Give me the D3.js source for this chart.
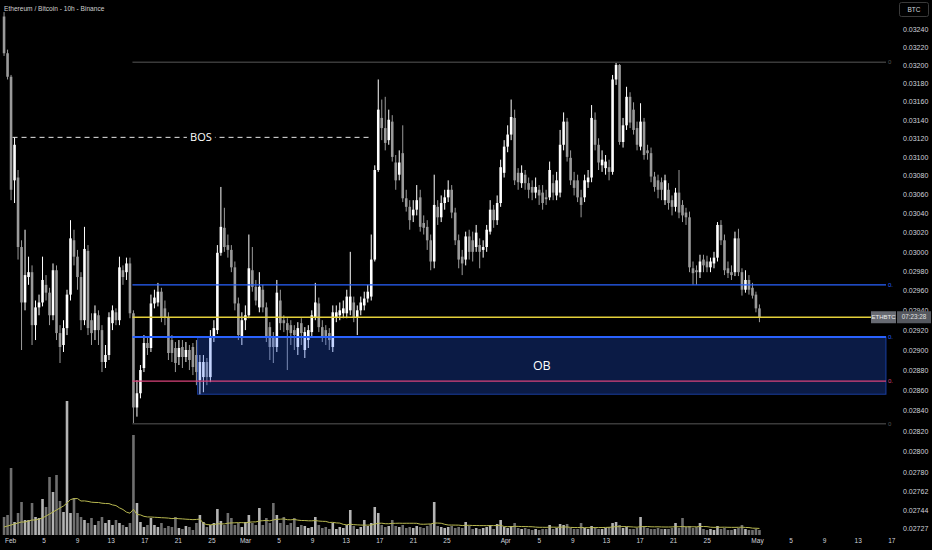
<!DOCTYPE html>
<html><head><meta charset="utf-8">
<script src="https://cdn.jsdelivr.net/npm/d3@7/dist/d3.min.js"></script>
<style>
html,body{margin:0;padding:0;background:#000;overflow:hidden;}
svg{display:block;font-family:"Liberation Sans","DejaVu Sans",sans-serif;}
</style></head><body>
<svg id="chart" width="932" height="550"></svg>
<script>
// ---------------- DATA ----------------
const title = "Ethereum / Bitcoin - 10h - Binance";
const currency = "BTC";
const symbol = "ETHBTC";
const countdown = "07:23:28";
const firstCandle = "2021-01-31T07:00:00Z";
const candleHours = 10;

const opens = [
0.03254,0.03213,0.03187,0.03075,0.03078,0.03005,0.02948,0.02974,0.02979,0.02925,
0.02943,0.02948,0.02966,0.02958,0.02935,0.02981,0.02917,0.02905,0.02922,0.02956,
0.03012,0.02995,0.02974,0.02930,0.03001,0.02930,0.02920,0.02935,0.02920,0.02888,
0.02895,0.02927,0.02938,0.02930,0.02981,0.02979,0.02988,0.02937,0.02843,0.02857,
0.02882,0.02907,0.02902,0.02947,0.02948,0.02959,0.02942,0.02933,0.02910,0.02902,
0.02893,0.02903,0.02893,0.02900,0.02903,0.02895,0.02870,0.02873,0.02888,0.02873,
0.02913,0.02920,0.02999,0.03025,0.03007,0.03002,0.02984,0.02947,0.02913,0.02930,
0.02935,0.02981,0.02964,0.02943,0.02961,0.02943,0.02923,0.02913,0.02903,0.02950,
0.02930,0.02927,0.02925,0.02920,0.02903,0.02927,0.02900,0.02910,0.02918,0.02933,
0.02947,0.02923,0.02920,0.02917,0.02903,0.02933,0.02935,0.02937,0.02937,0.02940,
0.02948,0.02933,0.02940,0.02945,0.02952,0.02954,0.02992,0.03086,0.03142,0.03131,
0.03118,0.03138,0.03094,0.03081,0.03104,0.03056,0.03047,0.03038,0.03044,0.03057,
0.03030,0.03026,0.03012,0.02990,0.03047,0.03036,0.03051,0.03057,0.03065,0.03041,
0.03012,0.02995,0.02992,0.03016,0.03012,0.03005,0.03007,0.03002,0.03005,0.03021,
0.03044,0.03033,0.03051,0.03083,0.03111,0.03124,0.03142,0.03083,0.03072,0.03081,
0.03072,0.03068,0.03062,0.03065,0.03062,0.03057,0.03057,0.03072,0.03059,0.03062,
0.03113,0.03138,0.03099,0.03075,0.03075,0.03057,0.03057,0.03073,0.03078,0.03140,
0.03113,0.03091,0.03088,0.03089,0.03084,0.03184,0.03200,0.03116,0.03134,0.03165,
0.03151,0.03131,0.03111,0.03138,0.03107,0.03104,0.03079,0.03075,0.03073,0.03054,
0.03065,0.03054,0.03047,0.03062,0.03049,0.03041,0.03036,0.02983,0.02981,0.02979,
0.02992,0.02990,0.02984,0.02988,0.02994,0.03028,0.03012,0.02983,0.02979,0.02979,
0.03014,0.02979,0.02961,0.02971,0.02963,0.02956,0.02942];

const highs = [
0.03259,0.03217,0.03189,0.03121,0.03086,0.03012,0.03023,0.02995,0.02986,0.02950,
0.02956,0.02995,0.02976,0.02963,0.02988,0.02986,0.02925,0.02930,0.02961,0.03033,
0.03023,0.03002,0.02979,0.03026,0.03007,0.02937,0.02945,0.02940,0.02925,0.02905,
0.02938,0.02945,0.02942,0.02995,0.02986,0.02994,0.02994,0.02940,0.02870,0.02885,
0.02915,0.02912,0.02956,0.02961,0.02968,0.02963,0.02950,0.02938,0.02915,0.02908,
0.02910,0.02910,0.02908,0.02905,0.02907,0.02910,0.02895,0.02895,0.02892,0.02920,
0.02930,0.03007,0.03068,0.03046,0.03018,0.03007,0.02990,0.02953,0.02938,0.02945,
0.03018,0.03005,0.02971,0.02979,0.02966,0.02948,0.02928,0.02918,0.02971,0.02961,
0.02935,0.02932,0.02930,0.02925,0.02928,0.02932,0.02923,0.02925,0.02940,0.02968,
0.02953,0.02930,0.02925,0.02922,0.02945,0.02945,0.02948,0.02950,0.02961,0.03000,
0.02954,0.02945,0.02954,0.02959,0.02966,0.03018,0.03091,0.03184,0.03162,0.03165,
0.03151,0.03145,0.03102,0.03107,0.03134,0.03065,0.03054,0.03054,0.03070,0.03065,
0.03038,0.03033,0.03018,0.03081,0.03054,0.03059,0.03065,0.03075,0.03070,0.03046,
0.03018,0.03002,0.03021,0.03023,0.03021,0.03028,0.03014,0.03012,0.03028,0.03054,
0.03049,0.03059,0.03097,0.03118,0.03134,0.03162,0.03151,0.03088,0.03091,0.03086,
0.03078,0.03075,0.03078,0.03070,0.03070,0.03065,0.03095,0.03081,0.03084,0.03129,
0.03148,0.03142,0.03107,0.03084,0.03081,0.03065,0.03081,0.03086,0.03156,0.03148,
0.03120,0.03107,0.03102,0.03097,0.03189,0.03203,0.03201,0.03142,0.03176,0.03170,
0.03159,0.03138,0.03158,0.03142,0.03113,0.03110,0.03084,0.03081,0.03078,0.03081,
0.03072,0.03059,0.03067,0.03086,0.03054,0.03046,0.03042,0.02990,0.02986,0.02997,
0.02997,0.02996,0.02994,0.03000,0.03031,0.03033,0.03018,0.02990,0.02986,0.03021,
0.03024,0.02983,0.02981,0.02976,0.02968,0.02959,0.02946];

const lows = [
0.03210,0.03184,0.03054,0.03051,0.02992,0.02900,0.02940,0.02966,0.02905,0.02910,
0.02935,0.02944,0.02950,0.02925,0.02930,0.02910,0.02887,0.02898,0.02915,0.02950,
0.02986,0.02961,0.02920,0.02925,0.02915,0.02905,0.02910,0.02905,0.02878,0.02882,
0.02890,0.02920,0.02925,0.02925,0.02966,0.02971,0.02932,0.02827,0.02834,0.02852,
0.02878,0.02895,0.02898,0.02942,0.02944,0.02928,0.02925,0.02890,0.02888,0.02878,
0.02885,0.02882,0.02888,0.02880,0.02875,0.02865,0.02856,0.02858,0.02865,0.02868,
0.02908,0.02916,0.02996,0.03000,0.02994,0.02979,0.02940,0.02910,0.02905,0.02920,
0.02932,0.02959,0.02945,0.02938,0.02938,0.02908,0.02890,0.02887,0.02898,0.02920,
0.02918,0.02880,0.02905,0.02900,0.02895,0.02905,0.02892,0.02902,0.02914,0.02930,
0.02918,0.02908,0.02905,0.02900,0.02898,0.02928,0.02930,0.02932,0.02932,0.02935,
0.02928,0.02915,0.02935,0.02940,0.02948,0.02950,0.02990,0.03084,0.03118,0.03107,
0.03113,0.03095,0.03065,0.03075,0.03052,0.03042,0.03023,0.03031,0.03038,0.03021,
0.03018,0.03002,0.02981,0.02983,0.03028,0.03031,0.03044,0.03052,0.03035,0.03007,
0.02983,0.02976,0.02986,0.02992,0.02990,0.03000,0.02983,0.02994,0.03000,0.03018,
0.03025,0.03028,0.03047,0.03078,0.03105,0.03118,0.03070,0.03065,0.03067,0.03065,
0.03056,0.03054,0.03056,0.03049,0.03044,0.03049,0.03054,0.03054,0.03054,0.03057,
0.03107,0.03095,0.03070,0.03059,0.03052,0.03036,0.03052,0.03067,0.03073,0.03107,
0.03086,0.03084,0.03081,0.03075,0.03081,0.03178,0.03113,0.03110,0.03129,0.03131,
0.03124,0.03107,0.03107,0.03097,0.03097,0.03073,0.03063,0.03056,0.03054,0.03049,
0.03044,0.03038,0.03042,0.03035,0.03031,0.03028,0.02979,0.02966,0.02966,0.02973,
0.02979,0.02979,0.02979,0.02983,0.02990,0.03007,0.02976,0.02973,0.02971,0.02975,
0.02975,0.02955,0.02958,0.02956,0.02952,0.02938,0.02928];

const closes = [
0.03213,0.03187,0.03065,0.03113,0.03005,0.02948,0.02976,0.02979,0.02925,0.02943,
0.02948,0.02971,0.02958,0.02935,0.02981,0.02917,0.02903,0.02922,0.02956,0.03014,
0.02995,0.02974,0.02930,0.03003,0.02922,0.02917,0.02937,0.02920,0.02888,0.02895,
0.02933,0.02940,0.02930,0.02984,0.02974,0.02988,0.02937,0.02843,0.02857,0.02880,
0.02907,0.02902,0.02947,0.02953,0.02959,0.02933,0.02933,0.02897,0.02897,0.02887,
0.02902,0.02893,0.02900,0.02890,0.02883,0.02878,0.02888,0.02888,0.02873,0.02913,
0.02922,0.02999,0.03026,0.03005,0.03002,0.02984,0.02947,0.02915,0.02930,0.02935,
0.02983,0.02964,0.02950,0.02964,0.02943,0.02913,0.02903,0.02903,0.02958,0.02927,
0.02927,0.02920,0.02917,0.02915,0.02922,0.02917,0.02918,0.02920,0.02935,0.02948,
0.02923,0.02913,0.02913,0.02910,0.02938,0.02938,0.02940,0.02942,0.02954,0.02954,
0.02933,0.02940,0.02948,0.02952,0.02959,0.02992,0.03086,0.03151,0.03131,0.03115,
0.03140,0.03100,0.03075,0.03094,0.03056,0.03047,0.03033,0.03044,0.03054,0.03026,
0.03025,0.03012,0.02990,0.03049,0.03036,0.03051,0.03057,0.03065,0.03041,0.03012,
0.02992,0.02988,0.03016,0.03000,0.03000,0.03020,0.03000,0.03005,0.03023,0.03044,
0.03033,0.03051,0.03089,0.03111,0.03124,0.03143,0.03075,0.03073,0.03083,0.03072,
0.03065,0.03062,0.03068,0.03059,0.03051,0.03055,0.03086,0.03062,0.03075,0.03113,
0.03138,0.03100,0.03075,0.03067,0.03057,0.03049,0.03075,0.03078,0.03142,0.03113,
0.03094,0.03097,0.03095,0.03084,0.03184,0.03200,0.03116,0.03134,0.03165,0.03137,
0.03129,0.03113,0.03138,0.03102,0.03104,0.03079,0.03068,0.03065,0.03065,0.03075,
0.03051,0.03047,0.03062,0.03041,0.03038,0.03036,0.02984,0.02978,0.02979,0.02990,
0.02986,0.02984,0.02990,0.02994,0.03028,0.03012,0.02981,0.02978,0.02976,0.03014,
0.02979,0.02961,0.02971,0.02961,0.02955,0.02942,0.02933];

const volumes = [
18,20,67,13,22,33,15,15,32,18,
17,36,28,58,43,60,34,23,134,22,
37,22,18,15,12,17,10,14,18,12,
15,10,15,12,10,8,12,100,32,13,
8,10,17,10,8,12,7,9,8,18,
7,6,9,8,5,12,20,13,8,10,
12,26,14,10,22,17,10,12,8,13,
20,12,10,27,10,17,12,32,20,12,
18,10,12,17,8,10,9,7,8,18,
10,7,8,6,12,6,8,7,10,25,
9,6,8,15,9,12,28,22,10,8,
9,15,9,8,10,7,8,7,9,8,
7,9,11,33,9,8,7,8,9,7,
8,7,13,9,6,7,6,7,8,10,
6,11,15,8,7,9,12,7,6,7,
6,5,6,5,6,6,10,6,7,11,
10,11,7,6,6,12,7,6,9,7,
6,6,7,8,12,13,10,7,8,6,
6,7,18,8,7,6,6,7,6,6,
6,7,12,7,17,8,9,7,8,12,
6,5,6,5,9,6,7,5,5,6,
7,10,6,5,5,6,5];
const volumeMaLength = 20;
// volume-MA values for the first candles (window reaches before the visible data)
const volumeMaHead = [8,9,10,11,12,13,13,14,15,15,16,17,19,21,23,25,27,29,32];

const priceTicks = [0.03240,0.03220,0.03200,0.03180,0.03160,0.03140,0.03120,0.03100,0.03080,0.03060,
  0.03040,0.03020,0.03000,0.02980,0.02960,0.02940,0.02920,0.02900,0.02880,0.02860,0.02840,0.02820,
  0.02800,0.02780,0.02762,0.02744,0.02727];
const priceTickLabels = ["0.03240","0.03220","0.03200","0.03180","0.03160","0.03140","0.03120","0.03100","0.03080","0.03060",
  "0.03040","0.03020","0.03000","0.02980","0.02960","0.02940","0.02920","0.02900","0.02880","0.02860","0.02840","0.02820",
  "0.02800","0.02780","0.02762","0.02744","0.02727"];

const timeTicks = ["2021-02-01","2021-02-05","2021-02-09","2021-02-13","2021-02-17","2021-02-21","2021-02-25",
  "2021-03-01","2021-03-05","2021-03-09","2021-03-13","2021-03-17","2021-03-21","2021-03-25",
  "2021-04-01","2021-04-05","2021-04-09","2021-04-13","2021-04-17","2021-04-21","2021-04-25",
  "2021-05-01","2021-05-05","2021-05-09","2021-05-13","2021-05-17"];
const timeTickLabels = ["Feb","5","9","13","17","21","25","Mar","5","9","13","17","21","25",
  "Apr","5","9","13","17","21","25","May","5","9","13","17"];

// drawings (prices)
const levelStartIndex = 37;
const rangeHigh = 0.03203;
const rangeLow = 0.02827;
const bosStartIndex = 3, bosEndIndex = 105, bosPrice = 0.03121;
const blueLevel = 0.02966;
const lastPrice = 0.02933;
const obStartIndex = 56, obTop = 0.02913, obBottom = 0.02856;
const pinkLevel = 0.02869;

// ---------------- CHART ----------------
const W = 932, H = 550;
const plotRight = 886, axisX = 903, timeAxisY = 536;
const svg = d3.select("#chart");
svg.append("rect").attr("width", W).attr("height", H).attr("fill", "#000");

const t0 = new Date(firstCandle).getTime();
const candles = opens.map((o, i) => ({
  date: new Date(t0 + i * candleHours * 3600e3),
  o, h: highs[i], l: lows[i], c: closes[i], v: volumes[i]
}));

const x = d3.scaleTime()
  .domain([new Date("2021-02-01T00:00:00Z"), new Date("2021-05-01T00:00:00Z")])
  .range([10, 757]);
const y = d3.scaleLog().domain([0.03240, 0.02820]).range([29, 431]);
const yv = d3.scaleLinear().domain([0, 160]).range([535, 375]);

const step = x(new Date(t0 + candleHours * 3600e3)) - x(new Date(t0));
const bodyW = step * 0.74;

const upCol = "#ffffff", downCol = "#9a9a9a";

// volume
const gv = svg.append("g");
gv.selectAll("rect").data(candles).join("rect")
  .attr("x", d => x(d.date) - bodyW / 2)
  .attr("width", bodyW)
  .attr("y", d => yv(d.v))
  .attr("height", d => yv(0) - yv(d.v))
  .attr("fill", d => d.c >= d.o ? "#b4b4b4" : "#6f6f6f");

const ma = candles.map((d, i) => {
  if (i < volumeMaHead.length) return { date: d.date, v: volumeMaHead[i] };
  const s = candles.slice(i - volumeMaLength + 1, i + 1);
  return { date: d.date, v: d3.mean(s, e => e.v) };
});
svg.append("path").datum(ma)
  .attr("fill", "none").attr("stroke", "#b8b850").attr("stroke-width", 1)
  .attr("d", d3.line().x(d => x(d.date)).y(d => yv(d.v)));

// candles
const gc = svg.append("g");
gc.selectAll("line").data(candles).join("line")
  .attr("x1", d => x(d.date)).attr("x2", d => x(d.date))
  .attr("y1", d => y(d.h)).attr("y2", d => y(d.l))
  .attr("stroke", d => d.c >= d.o ? upCol : downCol).attr("stroke-width", 1);
gc.selectAll("rect").data(candles).join("rect")
  .attr("x", d => x(d.date) - bodyW / 2)
  .attr("width", bodyW)
  .attr("y", d => y(Math.max(d.o, d.c)))
  .attr("height", d => Math.max(1, Math.abs(y(d.o) - y(d.c))))
  .attr("fill", d => d.c >= d.o ? upCol : downCol);

// OB box
const obX = x(candles[obStartIndex].date) - bodyW / 2 - 1;
svg.append("rect")
  .attr("x", obX).attr("y", y(obTop))
  .attr("width", plotRight - obX).attr("height", y(obBottom) - y(obTop))
  .attr("fill", "rgba(41,98,255,0.27)")
  .attr("stroke", "rgba(41,98,255,0.55)").attr("stroke-width", 1);

// level lines
const lx0 = x(candles[levelStartIndex].date) - 1;
const levels = [
  { p: rangeHigh, col: "#3a3a3a", w: 1.5, lab: "0", lcol: "#555" },
  { p: blueLevel, col: "#2962ff", w: 1.2, lab: "0.", lcol: "#2962ff" },
  { p: obTop, col: "#2962ff", w: 2, lab: "0.", lcol: "#2962ff" },
  { p: pinkLevel, col: "#d9437a", w: 1.2, lab: "0.", lcol: "#d9437a" },
  { p: rangeLow, col: "#3a3a3a", w: 1.5, lab: "0", lcol: "#555" }
];
levels.forEach(L => {
  svg.append("line").attr("x1", lx0).attr("x2", plotRight)
    .attr("y1", y(L.p)).attr("y2", y(L.p))
    .attr("stroke", L.col).attr("stroke-width", L.w);
  svg.append("text").attr("x", plotRight + 2).attr("y", y(L.p) + 2)
    .attr("fill", L.lcol).attr("font-size", 6).text(L.lab);
});
// last price line
svg.append("line").attr("x1", lx0).attr("x2", 871)
  .attr("y1", y(lastPrice)).attr("y2", y(lastPrice))
  .attr("stroke", "#e3cf3a").attr("stroke-width", 1.3);

// BOS
const bx0 = x(candles[bosStartIndex].date) - 2, bx1 = x(candles[bosEndIndex].date);
svg.append("line").attr("x1", bx0).attr("x2", bx1)
  .attr("y1", y(bosPrice)).attr("y2", y(bosPrice))
  .attr("stroke", "#e8e8e8").attr("stroke-width", 1).attr("stroke-dasharray", "5,4");
const bosMid = (bx0 + bx1) / 2 + 9;
svg.append("rect").attr("x", bosMid - 14).attr("y", y(bosPrice) - 6).attr("width", 28).attr("height", 12).attr("fill", "#000");
svg.append("text").attr("x", bosMid).attr("y", y(bosPrice) + 3.8)
  .attr("text-anchor", "middle").attr("fill", "#fff").attr("font-size", 11)
  .attr("font-family", "Open Sans, sans-serif").text("BOS");

// OB label
svg.append("text").attr("x", (obX + plotRight) / 2).attr("y", (y(obTop) + y(obBottom)) / 2 + 4.5)
  .attr("text-anchor", "middle").attr("fill", "#fff").attr("font-size", 12.5)
  .attr("font-family", "Open Sans, sans-serif").text("OB");

// price axis
const ya = svg.append("g").attr("transform", `translate(${axisX},0)`)
  .call(d3.axisRight(y).tickValues(priceTicks).tickFormat((d, i) => priceTickLabels[i]).tickSize(0).tickPadding(0));
ya.select(".domain").remove();
ya.selectAll("text").attr("fill", "#d1d4dc").attr("font-size", 7).attr("font-family", "Liberation Sans, sans-serif");

// symbol / countdown label
const ly = y(lastPrice);
svg.append("rect").attr("x", 871).attr("y", ly - 6).attr("width", 25).attr("height", 12).attr("fill", "#676a72");
svg.append("text").attr("x", 883.5).attr("y", ly + 2.2).attr("text-anchor", "middle")
  .attr("fill", "#f0f0f0").attr("font-size", 6).text(symbol);
svg.append("rect").attr("x", 897).attr("y", ly - 6).attr("width", 34).attr("height", 12).attr("fill", "#55585f");
svg.append("text").attr("x", 914).attr("y", ly + 2.2).attr("text-anchor", "middle")
  .attr("fill", "#e0e0e0").attr("font-size", 6.3).text(countdown);

// time axis
const xa = svg.append("g").attr("transform", `translate(0,${timeAxisY})`)
  .call(d3.axisBottom(x).tickValues(timeTicks.map(s => new Date(s + "T00:00:00Z")))
    .tickFormat((d, i) => timeTickLabels[i]).tickSize(0).tickPadding(2));
xa.select(".domain").remove();
xa.selectAll("text").attr("fill", "#d1d4dc").attr("font-size", 6.5).attr("font-family", "Liberation Sans, sans-serif");

// title & currency button
svg.append("text").attr("x", 4).attr("y", 11).attr("fill", "#d0d0d0").attr("font-size", 6.6).text(title);
svg.append("rect").attr("x", 899.5).attr("y", 2.5).attr("width", 29).attr("height", 14).attr("rx", 2)
  .attr("fill", "#000").attr("stroke", "#3a3a3a");
svg.append("text").attr("x", 914).attr("y", 12).attr("text-anchor", "middle")
  .attr("fill", "#d1d4dc").attr("font-size", 6.5).text(currency);
</script>
</body></html>
